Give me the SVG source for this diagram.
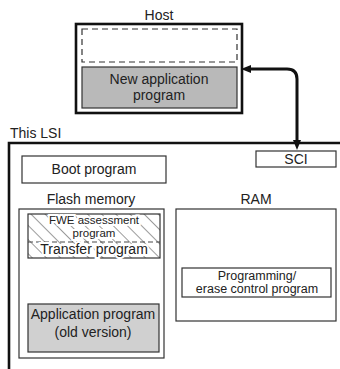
<svg xmlns="http://www.w3.org/2000/svg" width="340" height="369" viewBox="0 0 340 369">
<defs>
<style>
text{font-family:"Liberation Sans",Arial,sans-serif;font-size:14px;fill:#222;text-anchor:middle}
.box{fill:#fff;stroke:#333;stroke-width:1.2}
.thick{fill:none;stroke:#111;stroke-width:2.6}
.sm{font-size:11.5px}
.md{font-size:12.5px}
.halo{stroke:#fff;stroke-width:4;paint-order:stroke}
</style>
<pattern id="hatch" patternUnits="userSpaceOnUse" width="10" height="10" patternTransform="rotate(-45)">
<line x1="0" y1="0" x2="0" y2="10" stroke="#222" stroke-width="0.9"/>
</pattern>
<marker id="ah" markerUnits="userSpaceOnUse" markerWidth="11" markerHeight="9" refX="0" refY="4" orient="auto-start-reverse">
<path d="M0,0 L10,4 L0,8 z" fill="#111"/>
</marker>
</defs>
<g id="host">
<text x="159" y="20">Host</text>
<rect class="thick" x="76" y="24" width="166" height="89"/>
<rect x="82" y="29" width="155" height="33" fill="#fff" stroke="#333" stroke-width="1.2" stroke-dasharray="6,4"/>
<rect x="82" y="67" width="155" height="41" fill="#b9b9b9" stroke="#333" stroke-width="1.2"/>
<text x="159" y="84">New application</text>
<text x="159" y="100">program</text>
</g>
<g id="lsi">
<text x="10" y="138" style="text-anchor:start">This LSI</text>
<path class="thick" d="M9,369 V143 H340"/>
</g>
<g id="sci">
<rect class="box" x="256" y="151" width="80" height="16"/>
<text x="296" y="164">SCI</text>
</g>
<g id="boot">
<rect class="box" x="22" y="156" width="144" height="27"/>
<text x="94" y="174">Boot program</text>
</g>
<g id="flash">
<text x="91" y="204">Flash memory</text>
<rect class="box" x="19" y="209" width="145" height="149"/>
</g>
<g id="fwe">
<rect x="28" y="214" width="132" height="44" fill="url(#hatch)" stroke="#333" stroke-width="1.2"/>
<line x1="28" y1="242" x2="160" y2="242" stroke="#333" stroke-width="0.9" stroke-dasharray="5,3"/>
<text class="sm halo" x="94" y="224">FWE assessment</text>
<text class="sm halo" x="94" y="237">program</text>
<text class="halo" x="94" y="254">Transfer program</text>
</g>
<g id="app">
<rect x="28" y="304" width="131" height="48" fill="#d0d0d0" stroke="#333" stroke-width="1.2"/>
<text x="93" y="319">Application program</text>
<text x="93" y="337">(old version)</text>
</g>
<g id="ram">
<text x="256" y="204">RAM</text>
<rect class="box" x="176" y="209" width="160" height="112"/>
</g>
<g id="prog">
<rect class="box" x="182" y="268" width="149" height="29"/>
<text class="md" x="257" y="280">Programming/</text>
<text class="md" x="257" y="293">erase control program</text>
</g>
<g id="connectors">
<path d="M251,69 H287 Q297,69 297,79 V140" fill="none" stroke="#111" stroke-width="3" marker-start="url(#ah)" marker-end="url(#ah)"/>
</g>
</svg>
